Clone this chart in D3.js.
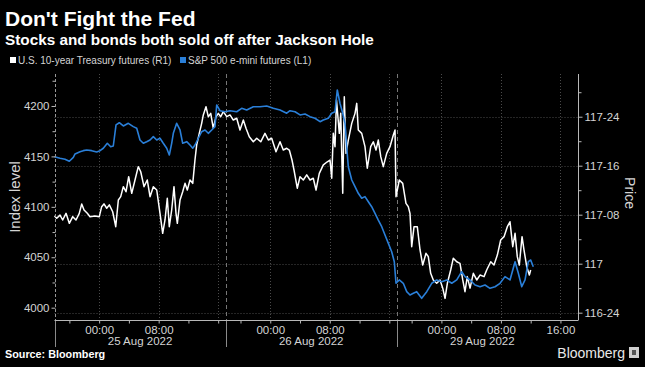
<!DOCTYPE html>
<html><head><meta charset="utf-8">
<script src="https://cdn.jsdelivr.net/npm/d3@7"></script>
<style>
html,body{margin:0;padding:0;background:#000;}
svg{display:block;}
text{font-family:"Liberation Sans",Arial,sans-serif;}
</style></head>
<body>
<svg id="c" width="645" height="367"></svg>
<script>
// ---- data ----
const titleText = "Don't Fight the Fed";
const subtitleText = "Stocks and bonds both sold off after Jackson Hole";
const seriesNames = ["U.S. 10-year Treasury futures (R1)", "S&P 500 e-mini futures (L1)"];
const sessionDates = ["25 Aug 2022", "26 Aug 2022", "29 Aug 2022"];
const sessionStarts = [0, 23, 46];          // trading hours (session = 18:00 prev day .. 17:00)
const sessionEnds = [23, 46, 69];
const xMinorTicks = [2, 6, 10, 14, 18, 22, 25, 29, 33, 37, 41, 45, 48, 52, 56, 60, 64, 68];
const xLabelTicks = [6, 14, 29, 37, 52, 60, 68];
const xLabels = ["00:00", "08:00", "00:00", "08:00", "00:00", "08:00", "16:00"];
const xGrid = [6, 14, 22, 29, 37, 45, 52, 60, 68];
const leftTicks = [4000, 4050, 4100, 4150, 4200];
const leftMinor = [4025, 4075, 4125, 4175, 4225];
const rightTicks = [116.75, 117, 117.25, 117.5, 117.75];
const rightTickLabels = ["116-24", "117", "117-08", "117-16", "117-24"];
const rightMinor = [116.875, 117.125, 117.375, 117.625, 117.875];

const spxTime = [0,0.74,1.41,1.99,2.53,2.76,3.43,3.87,4.33,5.0,5.67,6.12,6.56,7.1,7.55,7.9,8.27,8.71,9.25,9.92,10.59,11.05,11.49,11.94,12.39,12.84,13.28,13.74,14.18,14.62,15.08,15.43,15.75,15.97,16.42,16.87,17.23,17.77,18.21,18.58,18.88,19.33,19.78,20.23,20.67,21.13,21.57,21.8,22.24,22.92,23.59,24.49,25.16,25.83,26.72,27.62,28.52,29.41,30.31,31.21,31.65,32.33,33.0,33.67,34.34,35.01,35.69,36.13,36.8,37.26,37.7,38.01,38.37,38.74,39.05,39.27,39.49,39.95,40.39,40.83,41.29,41.73,42.18,42.63,43.08,43.52,43.98,44.42,44.87,45.32,45.67,45.9,46.34,46.88,47.34,47.78,48.23,48.68,49.35,50.03,50.7,51.37,52.04,52.72,53.39,54.06,54.73,55.17,55.85,56.52,57.19,57.86,58.53,59.21,59.88,60.55,61.22,61.9,62.34,62.8,63.24,63.68,64.0,64.35];
const spxValue = [4149.7,4148.1,4147.1,4145.2,4149.1,4152.4,4154.7,4155.7,4156.4,4155.7,4154.4,4155.7,4158.1,4163.0,4159.6,4160.3,4181.2,4183.4,4180.2,4182.8,4179.5,4177.9,4166.3,4163.0,4164.6,4166.3,4169.6,4166.3,4168.0,4163.0,4158.1,4151.4,4163.0,4172.9,4182.8,4176.2,4163.0,4164.6,4161.3,4158.1,4161.3,4168.0,4174.5,4176.2,4172.9,4176.2,4179.5,4201.0,4195.3,4194.3,4195.3,4194.3,4197.7,4196.0,4199.3,4199.3,4200.0,4197.7,4196.0,4192.8,4195.3,4194.3,4191.1,4192.1,4189.4,4187.8,4184.4,4186.1,4187.8,4192.8,4194.3,4215.9,4202.7,4192.8,4182.8,4159.6,4139.8,4126.6,4120.0,4113.4,4108.5,4110.1,4105.1,4100.1,4093.6,4086.9,4080.3,4072.1,4063.8,4055.5,4045.6,4024.2,4027.5,4024.2,4015.9,4012.6,4014.3,4015.9,4009.3,4015.9,4024.2,4027.5,4025.8,4027.5,4024.2,4027.5,4035.7,4030.8,4027.5,4022.5,4020.8,4022.5,4019.2,4020.8,4024.2,4030.8,4027.5,4045.6,4034.1,4020.8,4027.5,4045.6,4047.3,4040.6];

const tyTime = [0,0.3,0.74,1.1,1.55,1.99,2.45,2.89,3.33,3.66,3.97,4.41,4.77,5.44,6.02,6.34,6.65,7.02,7.37,7.82,8.23,8.58,8.9,9.25,9.61,9.97,10.38,10.82,11.26,11.59,12.03,12.47,12.84,13.28,13.74,14.18,14.54,14.85,15.16,15.43,15.75,16.06,16.33,16.51,16.87,17.23,17.54,17.85,18.21,18.58,18.88,19.11,19.46,19.78,20.0,20.36,20.67,21.0,21.34,21.71,22.02,22.34,22.69,23.15,23.59,24.03,24.49,24.93,25.38,25.74,26.18,26.72,27.18,27.72,28.29,28.74,29.19,29.77,30.31,30.75,31.21,31.56,31.92,32.19,32.63,33.0,33.44,33.9,34.34,34.78,35.15,35.59,36.13,36.67,37.03,37.26,37.47,37.7,37.9,38.28,38.47,38.74,38.95,39.18,39.49,39.95,40.39,40.62,40.83,41.29,41.73,42.04,42.5,42.85,43.21,43.52,43.85,44.19,44.65,45.09,45.54,45.77,45.9,46.34,46.8,47.24,47.55,47.78,48.01,48.32,48.76,49.13,49.49,49.93,50.24,50.56,50.91,51.37,51.82,52.18,52.49,52.8,53.25,53.6,54.06,54.5,54.87,55.17,55.48,55.85,56.29,56.75,57.19,57.73,58.09,58.63,59.07,59.52,59.97,60.42,60.86,61.22,61.59,61.9,62.2,62.47,62.84,63.1,63.47,63.82,64.0];
const tyValue = [117.243,117.232,117.248,117.223,117.257,117.206,117.240,117.223,117.257,117.305,117.274,117.257,117.240,117.243,117.240,117.291,117.305,117.283,117.300,117.265,117.189,117.325,117.342,117.393,117.367,117.444,117.359,117.427,117.495,117.469,117.393,117.427,117.342,117.393,117.376,117.257,117.155,117.223,117.334,117.189,117.274,117.393,117.257,117.206,117.325,117.367,117.410,117.376,117.427,117.410,117.529,117.606,117.665,117.716,117.759,117.801,117.750,117.767,117.691,117.750,117.767,117.750,117.776,117.750,117.759,117.733,117.742,117.682,117.733,117.691,117.648,117.622,117.640,117.622,117.665,117.631,117.640,117.571,117.622,117.580,117.589,117.580,117.529,117.478,117.385,117.444,117.427,117.453,117.427,117.436,117.376,117.461,117.504,117.520,117.529,117.436,117.665,117.597,117.835,117.665,117.767,117.359,117.852,117.563,117.631,117.716,117.767,117.818,117.682,117.665,117.597,117.487,117.597,117.622,117.580,117.631,117.546,117.495,117.563,117.597,117.657,117.682,117.342,117.427,117.410,117.308,117.291,117.257,117.087,117.189,117.189,117.070,116.993,117.053,117.036,116.951,116.917,116.900,116.917,116.875,116.823,116.900,116.968,117.028,117.010,117.002,116.917,116.857,116.934,116.875,116.951,116.917,116.942,116.934,116.968,117.010,116.993,117.044,117.121,117.138,117.189,117.214,117.087,117.155,117.036,116.993,117.138,117.070,116.985,116.942,116.968];

// ---- layout ----
const W = 645, H = 367;
const L = 54.5, R = 578, T = 74, B = 320;
const colWhite = "#ffffff", colBlue = "#2a7fd8", colAxis = "#b8b8b8", colText = "#d4d4d4", colGrid = "#4a4a4a";

const svg = d3.select("#c");
svg.append("rect").attr("width", W).attr("height", H).attr("fill", "#000");

const x = d3.scaleLinear().domain([0, 70.36]).range([L, R]);
const yL = d3.scaleLinear().domain([3987.8, 4231.7]).range([B, T]);
const yR = d3.scaleLinear().domain([116.7127, 117.9679]).range([B, T]);

// gridlines
const g = svg.append("g");
g.selectAll("line.hg").data(rightTicks).join("line")
  .attr("x1", L).attr("x2", R)
  .attr("y1", d => Math.round(yR(d)) + 0.5).attr("y2", d => Math.round(yR(d)) + 0.5)
  .attr("stroke", colGrid).attr("stroke-width", 1).attr("stroke-dasharray", "1,2");
g.selectAll("line.vg").data(xGrid).join("line")
  .attr("x1", d => Math.round(x(d)) + 0.5).attr("x2", d => Math.round(x(d)) + 0.5)
  .attr("y1", T).attr("y2", B)
  .attr("stroke", colGrid).attr("stroke-width", 1).attr("stroke-dasharray", "1,2");
// session separators
g.selectAll("line.sep").data(sessionEnds.slice(0, 2)).join("line")
  .attr("x1", d => Math.round(x(d)) + 0.5).attr("x2", d => Math.round(x(d)) + 0.5)
  .attr("y1", T).attr("y2", B)
  .attr("stroke", "#777").attr("stroke-width", 1).attr("stroke-dasharray", "4,3");
g.selectAll("line.sepb").data(sessionEnds.slice(0, 2)).join("line")
  .attr("x1", d => Math.round(x(d)) + 0.5).attr("x2", d => Math.round(x(d)) + 0.5)
  .attr("y1", B).attr("y2", 347)
  .attr("stroke", "#8a8a8a").attr("stroke-width", 1);
g.append("line").attr("x1", Math.round(L) + 0.5).attr("x2", Math.round(L) + 0.5)
  .attr("y1", B).attr("y2", 347).attr("stroke", "#8a8a8a");

// lines
const lineL = d3.line().x(d => x(d[0])).y(d => yL(d[1]));
const lineR = d3.line().x(d => x(d[0])).y(d => yR(d[1]));
svg.append("path").datum(d3.zip(tyTime, tyValue)).attr("d", lineR)
  .attr("fill", "none").attr("stroke", colWhite).attr("stroke-width", 1.5).attr("stroke-linejoin", "round");
svg.append("path").datum(d3.zip(spxTime, spxValue)).attr("d", lineL)
  .attr("fill", "none").attr("stroke", colBlue).attr("stroke-width", 1.6).attr("stroke-linejoin", "round");

// axes
function styleAxis(sel) {
  sel.selectAll("text").attr("fill", colText).style("font-size", "11.5px").style("font-family", "'Liberation Sans',Arial,sans-serif");
  sel.selectAll("line").attr("stroke", colAxis);
  sel.select(".domain").remove();
}
const axL = svg.append("g").attr("transform", `translate(${Math.round(L) + 0.5},0)`)
  .call(d3.axisLeft(yL).tickValues(leftTicks).tickSize(4).tickPadding(2).tickFormat(d3.format("d")));
styleAxis(axL);
const axLm = svg.append("g").attr("transform", `translate(${Math.round(L) + 0.5},0)`)
  .call(d3.axisLeft(yL).tickValues(leftMinor).tickSize(3).tickFormat(""));
styleAxis(axLm);
svg.append("line").attr("x1", Math.round(L) + 0.5).attr("x2", Math.round(L) + 0.5).attr("y1", T).attr("y2", B)
  .attr("stroke", "#999").attr("stroke-dasharray", "3,2");

const axR = svg.append("g").attr("transform", `translate(${R + 0.5},0)`)
  .call(d3.axisRight(yR).tickValues(rightTicks).tickSize(4).tickPadding(2)
    .tickFormat((d, i) => rightTickLabels[i]));
styleAxis(axR);
const axRm = svg.append("g").attr("transform", `translate(${R + 0.5},0)`)
  .call(d3.axisRight(yR).tickValues(rightMinor).tickSize(3).tickFormat(""));
styleAxis(axRm);
svg.append("line").attr("x1", R + 0.5).attr("x2", R + 0.5).attr("y1", T).attr("y2", B).attr("stroke", colAxis);

const axB = svg.append("g").attr("transform", `translate(0,${B + 0.5})`)
  .call(d3.axisBottom(x).tickValues(xMinorTicks).tickSize(3).tickPadding(4)
    .tickFormat(d => { const i = xLabelTicks.indexOf(d); return i >= 0 ? xLabels[i] : ""; }));
styleAxis(axB);
axB.selectAll("text").attr("dy", "0.75em").attr("y", 5);
svg.append("line").attr("x1", L).attr("x2", R + 0.5).attr("y1", B + 0.5).attr("y2", B + 0.5).attr("stroke", colAxis);

// date labels centred in each session
svg.selectAll("text.date").data(sessionDates).join("text")
  .attr("x", (d, i) => x((sessionStarts[i] + sessionEnds[i]) / 2))
  .attr("y", 345).attr("text-anchor", "middle")
  .attr("fill", colText).style("font-size", "11.5px").text(d => d);

// axis titles
svg.append("text").attr("transform", "translate(20,197) rotate(-90)").attr("text-anchor", "middle")
  .attr("fill", colText).style("font-size", "15px").text("Index level");
svg.append("text").attr("transform", "translate(625,193) rotate(90)").attr("text-anchor", "middle")
  .attr("fill", colText).style("font-size", "14px").text("Price");

// titles
svg.append("text").attr("x", 5).attr("y", 26).attr("fill", "#fff")
  .style("font-size", "21px").style("font-weight", "bold").text(titleText);
svg.append("text").attr("x", 5).attr("y", 45).attr("fill", "#fff")
  .style("font-size", "15.3px").style("font-weight", "bold").text(subtitleText);

// legend
const legCols = [colWhite, colBlue];
const legX = [10, 180];
seriesNames.forEach((n, i) => {
  svg.append("rect").attr("x", legX[i]).attr("y", 57).attr("width", 6).attr("height", 6).attr("fill", legCols[i]);
  svg.append("text").attr("x", legX[i] + 8).attr("y", 64).attr("fill", colText)
    .style("font-size", "10px").text(n);
});

// footer
svg.append("text").attr("x", 5).attr("y", 358).attr("fill", "#fff")
  .style("font-size", "10.8px").style("font-weight", "bold").text("Source: Bloomberg");
svg.append("text").attr("x", 625).attr("y", 358).attr("text-anchor", "end").attr("fill", "#e8e8e8")
  .style("font-size", "14px").text("Bloomberg");
svg.append("rect").attr("x", 629).attr("y", 347).attr("width", 10).attr("height", 11).attr("fill", "#cfcfcf");
svg.append("rect").attr("x", 632).attr("y", 350).attr("width", 4).attr("height", 5).attr("fill", "#555");
</script>
</body></html>
